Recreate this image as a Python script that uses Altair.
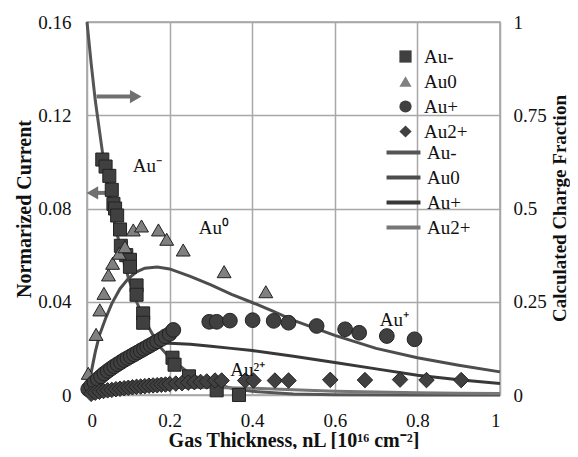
import altair as alt
import pandas as pd

# ---------------- data ----------------
series_names = ["Au-", "Au0", "Au+", "Au2+"]

aum_x = [0.037, 0.045, 0.054, 0.060, 0.064, 0.068, 0.073, 0.080, 0.082, 0.095, 0.104,
         0.104, 0.120, 0.120, 0.136, 0.136, 0.207, 0.212, 0.247, 0.314, 0.368]
aum_y = [0.101, 0.098, 0.094, 0.088, 0.082, 0.080, 0.077, 0.071, 0.064, 0.060, 0.058,
         0.055, 0.047, 0.043, 0.035, 0.031, 0.016, 0.013, 0.008, 0.002, 0.000]

au0_x = [0.003, 0.022, 0.031, 0.041, 0.052, 0.062, 0.078, 0.092, 0.112, 0.132, 0.173,
         0.193, 0.233, 0.332, 0.433]
au0_y = [0.0093, 0.0260, 0.0365, 0.0436, 0.0515, 0.0565, 0.0608, 0.0636, 0.0708, 0.0725,
         0.0708, 0.0668, 0.0622, 0.0529, 0.0443]

aup_x = [0.003, 0.010, 0.018, 0.026, 0.034, 0.042, 0.050, 0.058, 0.066, 0.074, 0.082,
         0.090, 0.098, 0.106, 0.114, 0.122, 0.130, 0.138, 0.146, 0.154, 0.162, 0.170,
         0.180, 0.190, 0.200, 0.209,
         0.296, 0.314, 0.346, 0.401, 0.452, 0.488, 0.556, 0.625, 0.659, 0.726, 0.793]
aup_y = [0.0025, 0.0040, 0.0055, 0.0068, 0.0080, 0.0092, 0.0103, 0.0113, 0.0123, 0.0132,
         0.0141, 0.0150, 0.0158, 0.0166, 0.0174, 0.0182, 0.0190, 0.0198, 0.0206, 0.0214,
         0.0222, 0.0230, 0.0240, 0.0252, 0.0262, 0.0279,
         0.0314, 0.0314, 0.0319, 0.0321, 0.0318, 0.0310, 0.0296, 0.0282, 0.0267, 0.0253,
         0.0239]

au2p_x = [0.010, 0.020, 0.030, 0.040, 0.050, 0.060, 0.070, 0.080, 0.090, 0.100, 0.110,
          0.120, 0.130, 0.140, 0.150, 0.160, 0.170, 0.180, 0.190, 0.200, 0.215, 0.230,
          0.245, 0.260, 0.275, 0.290,
          0.310, 0.326, 0.383, 0.403, 0.455, 0.488, 0.589, 0.673, 0.758, 0.822, 0.906]
au2p_y = [0.0005, 0.0010, 0.0014, 0.0017, 0.0020, 0.0022, 0.0025, 0.0027, 0.0029, 0.0031,
          0.0033, 0.0035, 0.0036, 0.0038, 0.0040, 0.0041, 0.0042, 0.0044, 0.0045, 0.0047,
          0.0049, 0.0051, 0.0053, 0.0055, 0.0056, 0.0058,
          0.0062, 0.0062, 0.0062, 0.0062, 0.0062, 0.0062, 0.0065, 0.0064, 0.0066, 0.0064,
          0.0064]

# calculated charge fractions (right axis)
calc_aum_x = [0.0, 0.01, 0.02, 0.03, 0.04, 0.05, 0.06, 0.07, 0.08, 0.09, 0.10, 0.12, 0.14,
              0.16, 0.18, 0.20, 0.25, 0.30, 0.35, 0.40, 0.50, 0.60, 0.80, 1.00]
calc_aum_f = [1.0, 0.89, 0.79, 0.71, 0.63, 0.56, 0.50, 0.445, 0.40, 0.355, 0.315, 0.25,
              0.20, 0.16, 0.125, 0.10, 0.056, 0.032, 0.018, 0.010, 0.003, 0.001, 0.0, 0.0]

calc_au0_x = [0.0, 0.01, 0.02, 0.03, 0.045, 0.06, 0.08, 0.10, 0.12, 0.14, 0.17, 0.20, 0.25,
              0.30, 0.35, 0.40, 0.45, 0.50, 0.55, 0.60, 0.70, 0.80, 0.90, 1.00]
calc_au0_f = [0.0, 0.06, 0.115, 0.16, 0.205, 0.245, 0.285, 0.312, 0.33, 0.34, 0.343, 0.338,
              0.318, 0.295, 0.27, 0.248, 0.225, 0.20, 0.18, 0.16, 0.125, 0.10, 0.08, 0.062]

calc_aup_x = [0.0, 0.02, 0.04, 0.06, 0.08, 0.10, 0.12, 0.14, 0.16, 0.18, 0.20, 0.25, 0.30,
              0.35, 0.40, 0.50, 0.60, 0.70, 0.80, 0.90, 1.00]
calc_aup_f = [0.0, 0.03, 0.055, 0.077, 0.095, 0.11, 0.122, 0.131, 0.137, 0.139, 0.139,
              0.136, 0.131, 0.125, 0.119, 0.104, 0.087, 0.07, 0.053, 0.041, 0.031]

calc_au2p_x = [0.0, 0.05, 0.10, 0.15, 0.20, 0.30, 0.40, 0.50, 0.60, 0.70, 0.80, 0.90, 1.00]
calc_au2p_f = [0.0, 0.008, 0.014, 0.018, 0.020, 0.020, 0.018, 0.014, 0.010, 0.008, 0.006,
               0.005, 0.004]

annot_text = ["Au\u207b", "Au\u2070", "Au\u207a", "Au\u00b2\u207a"]
annot_x = [0.146, 0.307, 0.744, 0.389]
annot_y = [0.0984, 0.0718, 0.0322, 0.0107]

# ---------------- tables ----------------
pts = pd.concat([
    pd.DataFrame({"x": aum_x, "y": aum_y, "Ion": "Au-"}),
    pd.DataFrame({"x": au0_x, "y": au0_y, "Ion": "Au0"}),
    pd.DataFrame({"x": aup_x, "y": aup_y, "Ion": "Au+"}),
    pd.DataFrame({"x": au2p_x, "y": au2p_y, "Ion": "Au2+"}),
], ignore_index=True)
pts["order"] = range(len(pts))

lines = pd.concat([
    pd.DataFrame({"x": calc_aum_x, "f": calc_aum_f, "Model": "Au-"}),
    pd.DataFrame({"x": calc_au0_x, "f": calc_au0_f, "Model": "Au0"}),
    pd.DataFrame({"x": calc_aup_x, "f": calc_aup_f, "Model": "Au+"}),
    pd.DataFrame({"x": calc_au2p_x, "f": calc_au2p_f, "Model": "Au2+"}),
], ignore_index=True)

annots = pd.DataFrame({"x": annot_x, "y": annot_y, "t": annot_text})

# arrows (in axis units)
arrows = pd.DataFrame({"x": [0.023, 0.057], "x2": [0.112, 0.020], "y": [0.128, 0.0867]})
heads = pd.DataFrame({"x": [0.118, 0.013], "y": [0.128, 0.0867],
                      "s": ["triangle-right", "triangle-left"]})

FONT = "Liberation Serif, Times New Roman, serif"

xs = alt.Scale(domain=[0, 1], nice=False)
ys_left = alt.Scale(domain=[0, 0.16], nice=False)
ys_right = alt.Scale(domain=[0, 1], nice=False)

x_axis = alt.Axis(values=[0, 0.2, 0.4, 0.6, 0.8, 1], format=".1~f", grid=True,
                  title="Gas Thickness, nL [10\u00b9\u2076 cm\u207b\u00b2]",
                  labelPadding=16, titlePadding=0)

left_axis = alt.Axis(values=[0, 0.04, 0.08, 0.12, 0.16], format=".2~f", grid=True,
                     title="Normarized Current", labelPadding=16, titlePadding=3)

right_axis = alt.Axis(values=[0, 0.25, 0.5, 0.75, 1], format=".2~f", grid=False,
                      orient="right", title="Calculated Charge Fraction",
                      labelPadding=13, titleAngle=270, titleX=59, titleY=186,
                      titleBaseline="middle", titleAlign="center", titleFontSize=19)

pt_legend = alt.Legend(orient="none", legendX=309, legendY=25, symbolSize=150,
                       labelOffset=9, rowPadding=5, padding=0,
                       symbolStrokeColor="#222222", symbolStrokeWidth=1)

points = alt.Chart(pts).mark_point(filled=True, stroke="#222222",
                                   strokeWidth=1, opacity=1).encode(
    x=alt.X("x:Q", scale=xs, axis=x_axis),
    y=alt.Y("y:Q", scale=ys_left, axis=left_axis),
    shape=alt.Shape("Ion:N", title=None,
                    scale=alt.Scale(domain=series_names,
                                    range=["square", "triangle-up", "circle", "diamond"]),
                    legend=pt_legend),
    fill=alt.Fill("Ion:N", title=None,
                  scale=alt.Scale(domain=series_names,
                                  range=["#404040", "#808080", "#404040", "#404040"]),
                  legend=pt_legend),
    size=alt.Size("Ion:N", legend=None,
                  scale=alt.Scale(domain=series_names, range=[170, 240, 190, 150])),
    order="order:Q",
)

texts = alt.Chart(annots).mark_text(font=FONT, fontSize=19, color="#111111").encode(
    x=alt.X("x:Q", scale=xs), y=alt.Y("y:Q", scale=ys_left), text="t:N")

arrow_shafts = alt.Chart(arrows).mark_rule(color="#707070", strokeWidth=4).encode(
    x=alt.X("x:Q", scale=xs), x2="x2:Q", y=alt.Y("y:Q", scale=ys_left))
arrow_heads = alt.Chart(heads).mark_point(filled=True, size=180, color="#707070",
                                          opacity=1).encode(
    x=alt.X("x:Q", scale=xs), y=alt.Y("y:Q", scale=ys_left),
    shape=alt.Shape("s:N", scale=None))

left_layer = alt.layer(arrow_shafts, arrow_heads, points, texts)

line_legend = alt.Legend(orient="none", legendX=307, legendY=121,
                         symbolType="M-3,0H3", symbolSize=128, symbolStrokeWidth=4,
                         labelOffset=14, rowPadding=5, padding=0)

curves = alt.Chart(lines).mark_line(strokeWidth=3).encode(
    x=alt.X("x:Q", scale=xs),
    y=alt.Y("f:Q", scale=ys_right, axis=right_axis),
    stroke=alt.Stroke("Model:N", title=None,
                      scale=alt.Scale(domain=series_names,
                                      range=["#555555", "#4d4d4d", "#383838", "#777777"]),
                      legend=line_legend),
)

chart = alt.layer(curves, left_layer).resolve_scale(
    y="independent", fill="independent", shape="independent", stroke="independent"
).properties(
    width=413, height=373,
    autosize=alt.AutoSizeParams(type="none"),
    padding={"left": 79, "top": 14, "right": 70, "bottom": 54},
).configure_view(
    stroke="#a0a0a0", strokeWidth=1.5
).configure_axis(
    labelFont=FONT, labelFontSize=19, labelColor="#111111",
    titleFont=FONT, titleFontSize=20, titleFontWeight="bold", titleColor="#111111",
    gridColor="#a8a8a8", gridWidth=1.5, ticks=False, domain=False,
).configure_legend(
    labelFont=FONT, labelFontSize=19, labelColor="#111111",
)

chart.save("out.html", embed_options={"renderer": "svg", "actions": False})
